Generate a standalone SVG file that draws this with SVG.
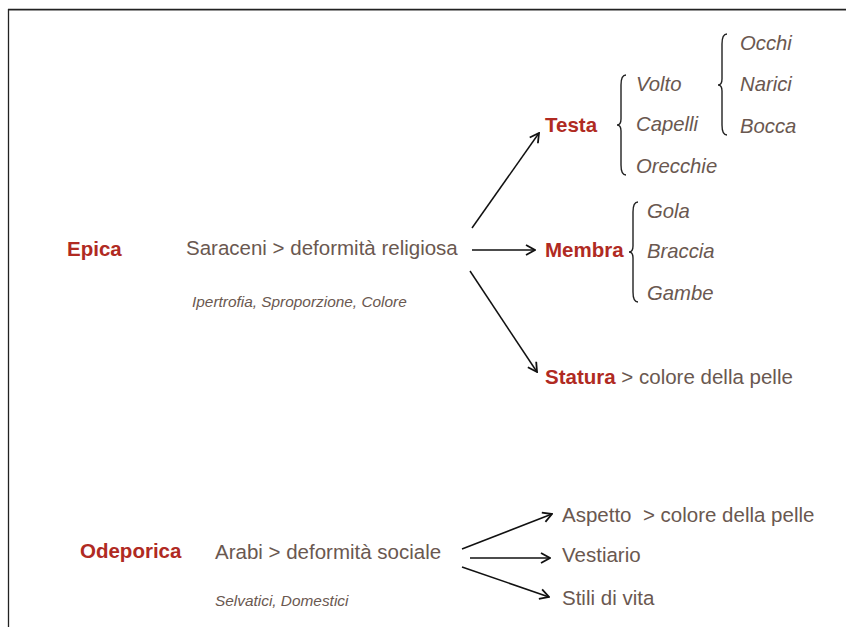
<svg xmlns="http://www.w3.org/2000/svg" width="846" height="627" viewBox="0 0 846 627">
<defs>
<style>
.red{fill:#b02a22;font-family:"Liberation Sans",Arial,sans-serif;font-weight:bold;font-size:20.5px}
.txt{fill:#6a5850;font-family:"Liberation Sans",Arial,sans-serif;font-size:20.5px}
.it{fill:#6a5850;font-family:"Liberation Sans",Arial,sans-serif;font-style:italic;font-size:20.3px}
.sm{fill:#6a5850;font-family:"Liberation Sans",Arial,sans-serif;font-style:italic;font-size:15.4px}
.arr{stroke:#111;stroke-width:1.5;fill:none;marker-end:url(#ah)}
.br{stroke:#222;stroke-width:1.4;fill:none}
</style>
<marker id="ah" viewBox="0 0 12 12" refX="11" refY="6" markerWidth="12" markerHeight="12" markerUnits="userSpaceOnUse" orient="auto">
<path d="M2,1 L11,6 L2,11" fill="none" stroke="#111" stroke-width="1.8"/>
</marker>
</defs>
<rect width="846" height="627" fill="#fff"/>
<g id="frame">
<line x1="8" y1="10.5" x2="846" y2="10.5" stroke="#bbb" stroke-width="1"/>
<line x1="8" y1="9.5" x2="846" y2="9.5" stroke="#222" stroke-width="1.3"/>
<line x1="8.5" y1="9" x2="8.5" y2="627" stroke="#222" stroke-width="1.3"/>
</g>
<g id="connectors">
<line class="arr" x1="472" y1="228" x2="539" y2="133"/>
<line class="arr" x1="472" y1="250" x2="535" y2="250"/>
<line class="arr" x1="470" y1="271" x2="537" y2="372"/>
<line class="arr" x1="462" y1="549" x2="552" y2="514"/>
<line class="arr" x1="470" y1="558" x2="550" y2="558"/>
<line class="arr" x1="462" y1="567" x2="549" y2="597"/>
<path class="br" d="M626,75 Q621,75 621,85 L621,119 Q621,125 617,125 Q621,125 621,131 L621,165 Q621,175 626,175"/>
<path class="br" d="M727,34 Q722,34 722,44 L722,79 Q722,85 718,85 Q722,85 722,91 L722,125 Q722,135 727,135"/>
<path class="br" d="M638,202 Q633,202 633,212 L633,246 Q633,252 629,252 Q633,252 633,258 L633,292 Q633,302 638,302"/>
</g>
<g id="epica"><text class="red" x="67" y="256">Epica</text></g>
<g id="saraceni"><text class="txt" x="186" y="255">Saraceni &gt; deformità religiosa</text></g>
<g id="ipertrofia"><text class="sm" x="192" y="307">Ipertrofia, Sproporzione, Colore</text></g>
<g id="testa"><text class="red" x="545" y="132">Testa</text></g>
<g id="membra"><text class="red" x="545" y="257">Membra</text></g>
<g id="statura"><text x="545" y="384"><tspan class="red">Statura</tspan><tspan class="txt"> &gt; colore della pelle</tspan></text></g>
<g id="volto"><text class="it" x="636" y="91">Volto</text></g>
<g id="capelli"><text class="it" x="636" y="131">Capelli</text></g>
<g id="orecchie"><text class="it" x="636" y="173">Orecchie</text></g>
<g id="occhi"><text class="it" x="740" y="50">Occhi</text></g>
<g id="narici"><text class="it" x="740" y="91">Narici</text></g>
<g id="bocca"><text class="it" x="740" y="133">Bocca</text></g>
<g id="gola"><text class="it" x="647" y="218">Gola</text></g>
<g id="braccia"><text class="it" x="647" y="258">Braccia</text></g>
<g id="gambe"><text class="it" x="647" y="300">Gambe</text></g>
<g id="odeporica"><text class="red" x="80" y="558">Odeporica</text></g>
<g id="arabi"><text class="txt" x="215" y="559">Arabi &gt; deformità sociale</text></g>
<g id="selvatici"><text class="sm" x="215" y="606">Selvatici, Domestici</text></g>
<g id="aspetto"><text class="txt" x="562" y="522" xml:space="preserve">Aspetto  &gt; colore della pelle</text></g>
<g id="vestiario"><text class="txt" x="562" y="562">Vestiario</text></g>
<g id="stili"><text class="txt" x="562" y="605">Stili di vita</text></g>
</svg>
